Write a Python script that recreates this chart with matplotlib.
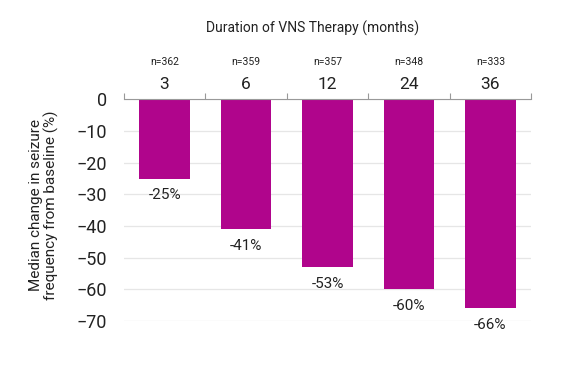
import matplotlib.pyplot as plt

plt.rcParams['font.family'] = ['Roboto', 'DejaVu Sans']

months = ['3', '6', '12', '24', '36']
n_patients = ['n=362', 'n=359', 'n=357', 'n=348', 'n=333']
change = [-25, -41, -53, -60, -66]

bar_color = '#b0058c'
text_color = '#222222'

fig = plt.figure(figsize=(5.76, 3.75), dpi=100)
ax = fig.add_axes([0.215, 0.144, 0.707, 0.591])

x = list(range(len(months)))
ax.bar(x, change, width=0.62, color=bar_color, zorder=3)

# labels under each bar
for xi, v in zip(x, change):
    ax.annotate('{}%'.format(v), xy=(xi, v), xytext=(0, -12), textcoords='offset points',
                ha='center', va='center', fontsize=11, color=text_color)

# n= above the month labels
for xi, n in zip(x, n_patients):
    ax.annotate(n, xy=(xi, 0), xycoords=('data', 'data'), xytext=(0, 27),
                textcoords='offset points', ha='center', va='center', fontsize=7.5, color=text_color)

ax.set_xlim(-0.5, len(months) - 0.5)
ax.set_ylim(-70, 0)
ax.set_yticks(range(0, -80, -10))
ax.tick_params(axis='y', length=0, labelsize=13, pad=12, colors=text_color)

ax.xaxis.tick_top()
ax.set_xticks(x)
ax.set_xticklabels(months)
ax.tick_params(axis='x', which='major', length=0, labelsize=12.5, pad=5, colors=text_color)
ax.set_xticks([i - 0.5 for i in range(len(months) + 1)], minor=True)
ax.tick_params(axis='x', which='minor', top=True, length=4, color='#999999', width=0.8)

ax.grid(axis='y', color='#e6e6e6', linewidth=0.9, zorder=0)
for s in ['left', 'right', 'bottom']:
    ax.spines[s].set_visible(False)
ax.spines['top'].set_color('#999999')
ax.spines['top'].set_linewidth(0.8)
ax.spines['top'].set_zorder(4)

fig.text(313 / 576, 1 - 28 / 375, 'Duration of VNS Therapy (months)', ha='center', va='center',
         fontsize=10, color=text_color)
fig.text(44 / 576, 1 - 205 / 375, 'Median change in seizure\nfrequency from baseline (%)',
         rotation=90, ha='center', va='center', fontsize=11, color=text_color, linespacing=1.05)

fig.savefig('out.png', dpi=100)
